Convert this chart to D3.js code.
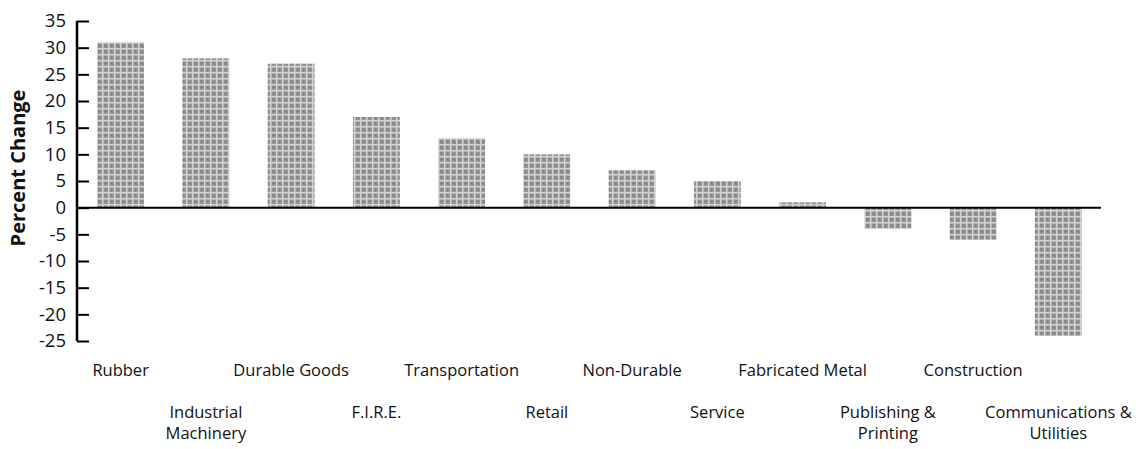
<!DOCTYPE html>
<html>
<head>
<meta charset="utf-8">
<script src="https://cdn.jsdelivr.net/npm/d3@7"></script>
<style>
    body { margin: 0; background: #fff; }
    text { font-family: 'Open Sans', sans-serif; fill: #111; }
</style>
</head>
<body>
<svg id="canvas" width="1147" height="449"></svg>
<script>
'use strict';

// categories, left to right, with wrapped label lines
const categories = ['Rubber', 'Industrial Machinery', 'Durable Goods', 'F.I.R.E.', 'Transportation', 'Retail',
    'Non-Durable', 'Service', 'Fabricated Metal', 'Publishing & Printing', 'Construction', 'Communications & Utilities'];
const labelLines = [['Rubber'], ['Industrial', 'Machinery'], ['Durable Goods'], ['F.I.R.E.'], ['Transportation'], ['Retail'],
    ['Non-Durable'], ['Service'], ['Fabricated Metal'], ['Publishing &', 'Printing'], ['Construction'], ['Communications &', 'Utilities']];
const percentChange = [31, 28, 27, 17, 13, 10, 7, 5, 1, -4, -6, -24];
const yTicks = [35, 30, 25, 20, 15, 10, 5, 0, -5, -10, -15, -20, -25];

const svg = d3.select('#canvas');

// crosshatch fill like the scanned print
const defs = svg.append('defs');
const pat = defs.append('pattern')
    .attr('id', 'hatch')
    .attr('patternUnits', 'userSpaceOnUse')
    .attr('width', 6)
    .attr('height', 6);
pat.append('rect').attr('width', 6).attr('height', 6).attr('fill', '#959595');
pat.append('path')
    .attr('d', 'M0,0.75H6M0.75,0V6')
    .attr('stroke', '#d2d2d2')
    .attr('stroke-width', 1.5);
pat.append('rect').attr('x', 2.5).attr('y', 2.5).attr('width', 2).attr('height', 2).attr('fill', '#808080');

const x = d3.scaleBand()
    .domain(categories)
    .range([78, 1101])
    .paddingInner(0.45)
    .paddingOuter(0.225);

const y = d3.scaleLinear()
    .domain([-25, 35])
    .range([341, 21]);

// bars
svg.append('g')
    .selectAll('rect')
    .data(categories)
    .enter().append('rect')
        .attr('x', function(d) { return x(d); })
        .attr('width', x.bandwidth())
        .attr('y', function(d, i) { return y(Math.max(0, percentChange[i])); })
        .attr('height', function(d, i) { return Math.abs(y(percentChange[i]) - y(0)); })
        .attr('fill', 'url(#hatch)');

// y axis, ticks pointing inward
const yAxis = svg.append('g')
    .attr('transform', 'translate(77,0)')
    .call(d3.axisLeft(y).tickValues(yTicks).tickSize(-12).tickPadding(11).tickFormat(function(d) { return String(d); }));
yAxis.select('.domain').attr('stroke', '#000').attr('stroke-width', 2.5).attr('d', 'M0,21V341');
yAxis.selectAll('.tick line').attr('stroke', '#000').attr('stroke-width', 2);
yAxis.selectAll('.tick text')
    .attr('font-size', 18.5)
    .attr('font-family', "'Open Sans', sans-serif")
    .attr('fill', '#111');

// zero line
svg.append('line')
    .attr('x1', 77)
    .attr('x2', 1101)
    .attr('y1', y(0))
    .attr('y2', y(0))
    .attr('stroke', '#000')
    .attr('stroke-width', 2);

// y title
svg.append('text')
    .attr('transform', 'translate(25,' + 168 + ') rotate(-90)')
    .attr('text-anchor', 'middle')
    .attr('font-size', 20)
    .attr('font-weight', 'bold')
    .text('Percent Change');

// staggered category labels
const labels = svg.append('g')
    .selectAll('text')
    .data(categories)
    .enter().append('text')
        .attr('text-anchor', 'middle')
        .attr('font-size', 16.5)
        .attr('transform', function(d, i) {
            const ty = i % 2 === 0 ? 376 : 418;
            return 'translate(' + (x(d) + x.bandwidth() / 2) + ',' + ty + ')';
        });

labels.selectAll('tspan')
    .data(function(d, i) { return labelLines[i]; })
    .enter().append('tspan')
        .attr('x', 0)
        .attr('y', function(d, j) { return j * 21; })
        .text(function(d) { return d; });
</script>
</body>
</html>
